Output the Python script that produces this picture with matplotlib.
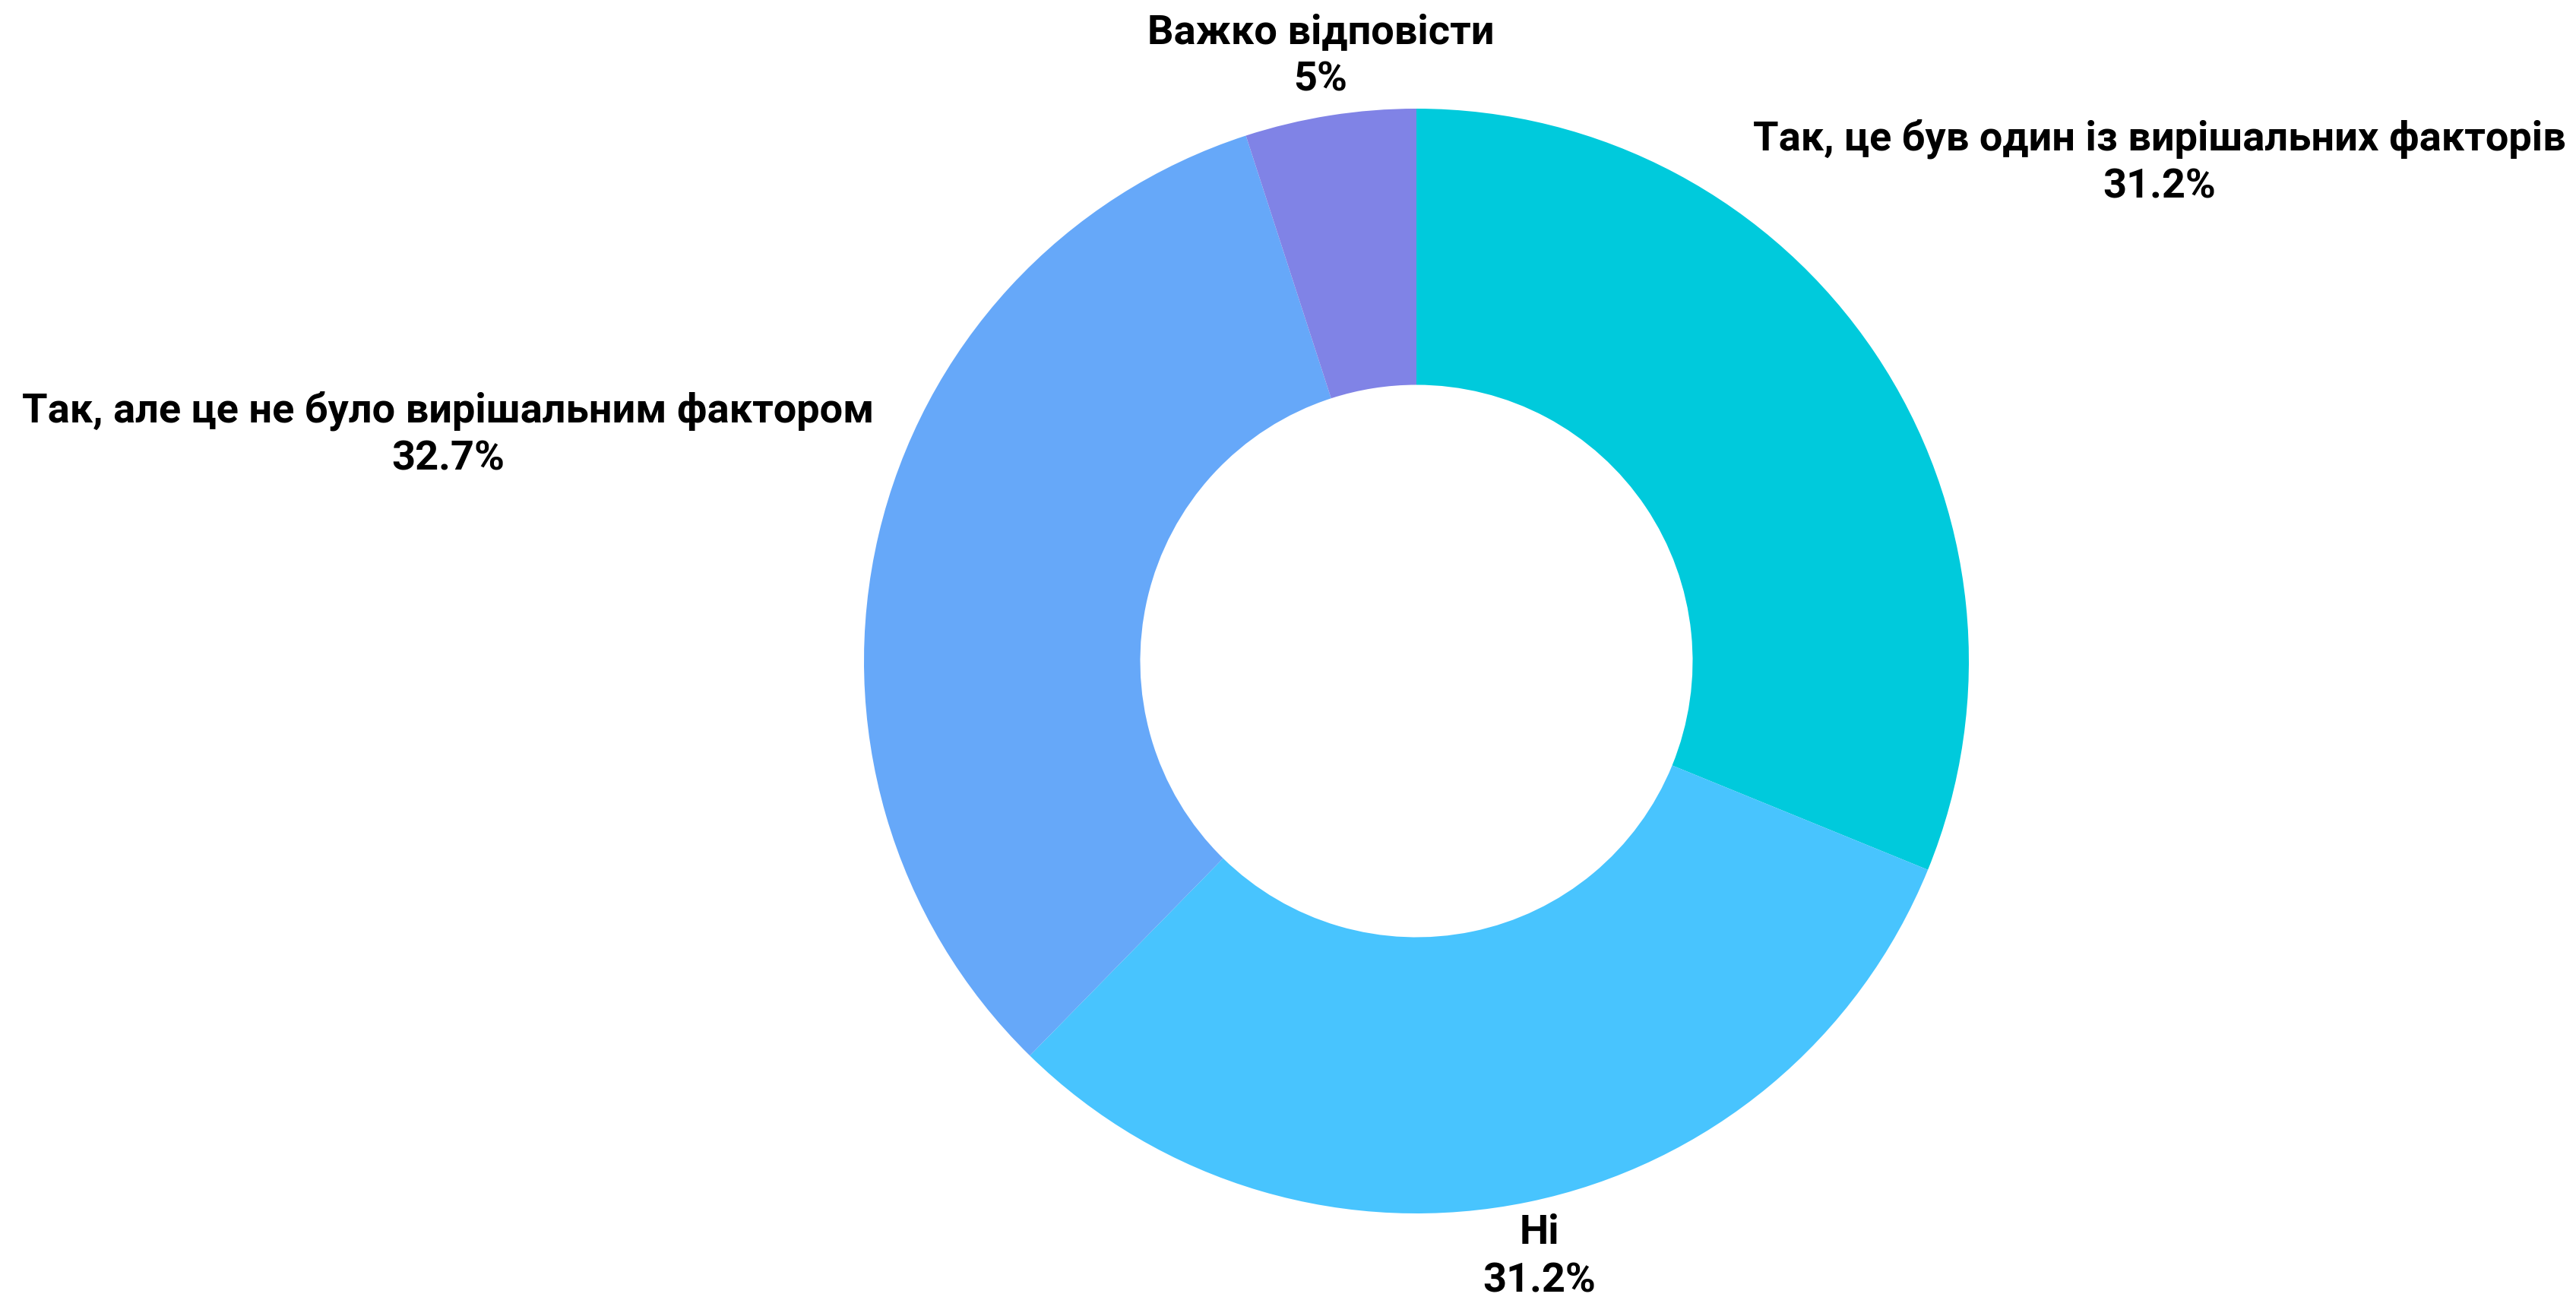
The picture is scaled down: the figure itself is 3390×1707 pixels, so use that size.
import numpy as np
import matplotlib
matplotlib.use("Agg")
from matplotlib import pyplot as plt

# answers, clockwise from 12 o'clock
labels = ["Так, це був один із вирішальних факторів", "Ні",
          "Так, але це не було вирішальним фактором", "Важко відповісти"]
shares = [31.2, 31.2, 32.7, 5.0]
pct_text = ["31.2%", "31.2%", "32.7%", "5%"]
colors = ["#00CADC", "#48C4FE", "#66A8F9", "#8083E6"]
lab_dist = [1.62, 1.10, 1.80, 1.11]   # how far out each label sits

plt.rcParams['font.family'] = ['Roboto', 'DejaVu Sans']

W, H, dpi = 3391, 1708, 200
fig = plt.figure(figsize=(W / dpi, H / dpi), dpi=dpi)
ax = fig.add_axes([0, 0, 1, 1])

# pie centre at (1864, 871) px, outer radius 727 px
cx, cy, R = 1864, 871, 727

wedges, _ = ax.pie(shares, colors=colors, startangle=90, counterclock=False,
                   radius=1.0, wedgeprops=dict(width=0.5, linewidth=0))
ax.set_xlim(-cx / R, (W - cx) / R)
ax.set_ylim(-(H - cy) / R, cy / R)
ax.set_aspect('auto')
ax.axis('off')

for w, lab, p, d in zip(wedges, labels, pct_text, lab_dist):
    th = np.deg2rad((w.theta1 + w.theta2) / 2)
    x, y = d * np.cos(th), d * np.sin(th)
    ax.text(x, y, lab + "\n" + p, ha='center', va='center', fontsize=19.5,
            fontweight='bold', linespacing=1.3, color='black')

fig.savefig("out.png", dpi=dpi, facecolor='white')
